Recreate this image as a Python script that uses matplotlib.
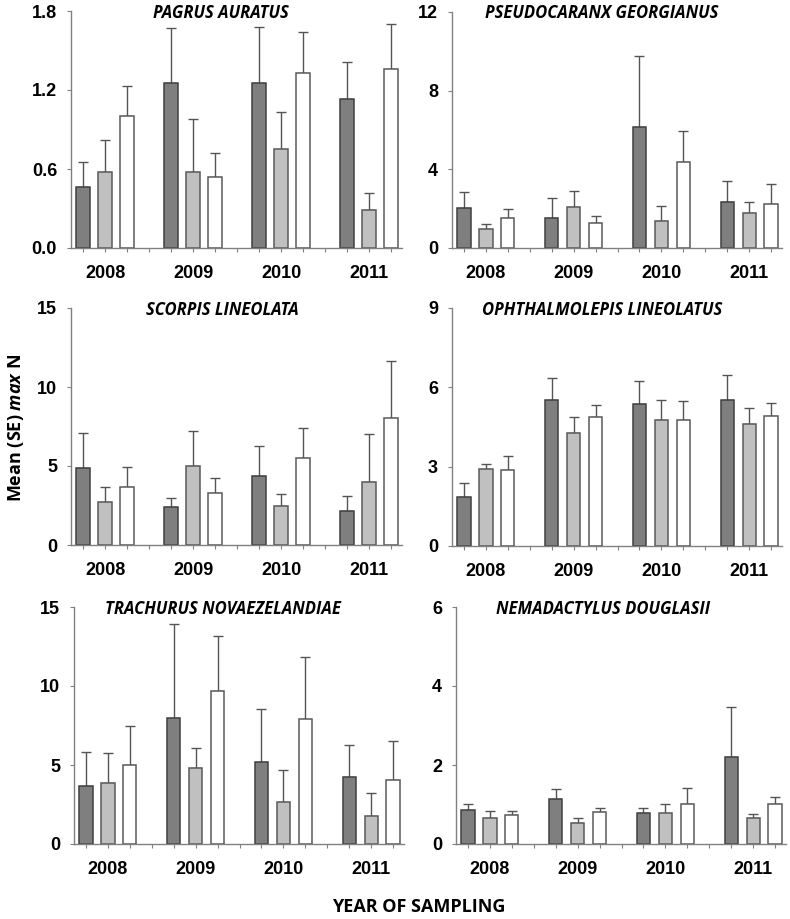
"""Mean (SE) max N per species and year of sampling, six bar panels."""

import matplotlib
matplotlib.use("Agg")
import matplotlib.pyplot as plt
import numpy as np

plt.rcParams["font.family"] = ["Liberation Sans", "DejaVu Sans"]
plt.rcParams["mathtext.fontset"] = "custom"
plt.rcParams["mathtext.it"] = "Open Sans:italic:bold"
plt.rcParams["mathtext.rm"] = "Open Sans:bold"

years = ["2008", "2009", "2010", "2011"]

species = [
    "PAGRUS AURATUS",
    "PSEUDOCARANX GEORGIANUS",
    "SCORPIS LINEOLATA",
    "OPHTHALMOLEPIS LINEOLATUS",
    "TRACHURUS NOVAEZELANDIAE",
    "NEMADACTYLUS DOUGLASII",
]

# three bars per year: dark, light, white; values are means, tops are mean + SE
pagrus_mean = [[0.46, 1.25, 1.25, 1.13], [0.58, 0.58, 0.75, 0.29], [1.00, 0.54, 1.33, 1.36]]
pagrus_top = [[0.65, 1.67, 1.68, 1.41], [0.82, 0.98, 1.03, 0.42], [1.23, 0.72, 1.64, 1.70]]

pseudo_mean = [[2.02, 1.54, 6.14, 2.34], [0.95, 2.07, 1.37, 1.76], [1.51, 1.29, 4.39, 2.22]]
pseudo_top = [[2.86, 2.56, 9.78, 3.41], [1.22, 2.92, 2.15, 2.36], [1.98, 1.64, 5.93, 3.27]]

scorpis_mean = [[4.90, 2.39, 4.38, 2.16], [2.71, 5.00, 2.47, 3.97], [3.66, 3.28, 5.49, 8.05]]
scorpis_top = [[7.12, 3.00, 6.27, 3.07], [3.64, 7.24, 3.23, 7.02], [4.95, 4.23, 7.40, 11.67]]

ophth_mean = [[1.84, 5.52, 5.38, 5.52], [2.92, 4.27, 4.75, 4.63], [2.86, 4.87, 4.77, 4.90]]
ophth_top = [[2.39, 6.35, 6.25, 6.48], [3.11, 4.87, 5.51, 5.22], [3.39, 5.34, 5.47, 5.39]]

trach_mean = [[3.64, 7.97, 5.16, 4.21], [3.83, 4.84, 2.68, 1.75], [4.99, 9.66, 7.91, 4.04]]
trach_top = [[5.81, 13.93, 8.52, 6.24], [5.73, 6.07, 4.71, 3.21], [7.46, 13.15, 11.84, 6.49]]

nema_mean = [[0.85, 1.13, 0.79, 2.21], [0.67, 0.54, 0.79, 0.67], [0.73, 0.82, 1.02, 1.01]]
nema_top = [[1.01, 1.40, 0.92, 3.47], [0.83, 0.67, 1.02, 0.77], [0.83, 0.92, 1.42, 1.18]]

means = [pagrus_mean, pseudo_mean, scorpis_mean, ophth_mean, trach_mean, nema_mean]
tops = [pagrus_top, pseudo_top, scorpis_top, ophth_top, trach_top, nema_top]

y_max = [1.8, 12, 15, 9, 15, 6]
y_ticks = [
    [0.0, 0.6, 1.2, 1.8],
    [0, 4, 8, 12],
    [0, 5, 10, 15],
    [0, 3, 6, 9],
    [0, 5, 10, 15],
    [0, 2, 4, 6],
]
y_fmt = ["{:.1f}", "{:.0f}", "{:.0f}", "{:.0f}", "{:.0f}", "{:.0f}"]

fills = ["#7f7f7f", "#c0c0c0", "#ffffff"]
edges = ["#404040", "#5a5a5a", "#5a5a5a"]

W, H = 790, 919
# axes boxes in pixels: left, top, right, bottom
boxes = [
    (71, 11, 402, 248),
    (452, 12, 782, 248),
    (71, 308, 402, 545),
    (452, 308, 782, 546),
    (74, 607, 404, 844),
    (456, 607, 786, 844),
]
title_xy = [(221, 13), (602, 13), (222, 310), (602, 310), (223, 609), (603, 609)]

fig = plt.figure(figsize=(W / 100, H / 100), dpi=100)

for i in range(6):
    l, t, r, b = boxes[i]
    ax = fig.add_axes([l / W, 1 - b / H, (r - l) / W, (b - t) / H])
    for k in range(3):
        x = np.arange(4) * 4 + k
        m = np.array(means[i][k])
        se = np.array(tops[i][k]) - m
        ax.bar(x, m, width=0.6, color=fills[k], edgecolor=edges[k], linewidth=1.1, zorder=2)
        ax.errorbar(x, m, yerr=[np.zeros(4), se], fmt="none", ecolor="#555555",
                    elinewidth=1.0, capsize=3.5, capthick=1.0, zorder=1)
    ax.set_xlim(-0.55, 14.5)
    ax.set_ylim(0, y_max[i])
    ax.set_yticks(y_ticks[i])
    ax.set_yticklabels([y_fmt[i].format(v) for v in y_ticks[i]])
    ax.set_xticks([1, 5, 9, 13])
    ax.set_xticklabels(years)
    ax.set_xticks([0, 2, 3, 4, 6, 7, 8, 10, 11, 12, 14], minor=True)
    ax.tick_params(axis="x", which="both", direction="out", length=3, width=0.8,
                   color="#808080", labelsize=13, pad=9)
    ax.tick_params(axis="y", direction="out", length=3, width=0.8,
                   color="#808080", labelsize=13, pad=7)
    for lab in ax.get_xticklabels() + ax.get_yticklabels():
        lab.set_fontweight("bold")
    for s in ["top", "right"]:
        ax.spines[s].set_visible(False)
    for s in ["left", "bottom"]:
        ax.spines[s].set_color("#808080")
        ax.spines[s].set_linewidth(1.0)
    tx, ty = title_xy[i]
    fig.text(tx / W, 1 - ty / H, species[i], ha="center", va="center",
             family="Open Sans", fontweight="bold", style="italic", fontsize=12)

fig.text(16 / W, 1 - 428 / H, r"Mean (SE) $\mathit{max}$ N", rotation=90,
         ha="center", va="center", family="Open Sans", fontweight="bold", fontsize=13)
fig.text(419 / W, 1 - 907 / H, "YEAR OF SAMPLING", ha="center", va="center",
         family="Open Sans", fontweight="bold", fontsize=13)

fig.savefig("out.png", dpi=100)
